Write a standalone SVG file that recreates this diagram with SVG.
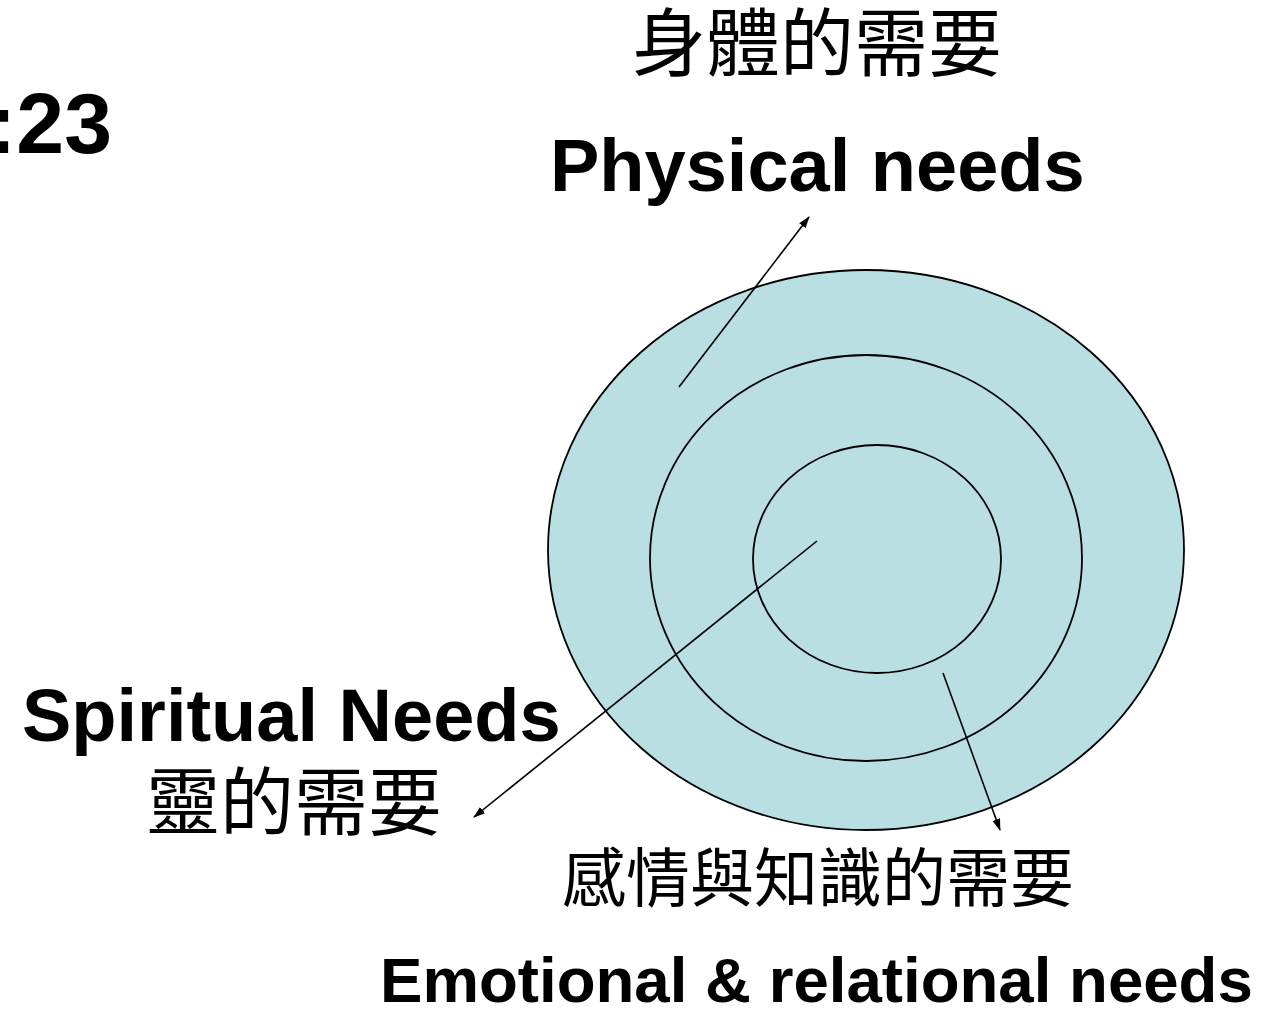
<svg xmlns="http://www.w3.org/2000/svg" width="1283" height="1010" viewBox="0 0 1283 1010">
<style>
.en{font-family:"Liberation Sans",Arial,sans-serif;font-weight:bold;fill:#000}
.zh{font-family:"Noto Sans CJK TC","Noto Sans CJK SC",sans-serif;fill:#000}
.ring{fill:#B9DFE2;stroke:#000;stroke-width:1.8}
.conn{stroke:#000;stroke-width:1.6;fill:none;marker-end:url(#ah)}
</style>
<defs>
<marker id="ah" viewBox="0 0 12 10" refX="11" refY="5" markerWidth="12" markerHeight="10" markerUnits="userSpaceOnUse" orient="auto">
<path d="M0,1 L12,5 L0,9 Z" fill="#000"/>
</marker>
</defs>
<rect width="1283" height="1010" fill="#fff"/>
<g id="title"><text class="en" x="112" y="153" font-size="86" text-anchor="end">:23</text></g>
<g id="rings">
<ellipse id="outer" class="ring" cx="866" cy="550" rx="318" ry="280"/>
<ellipse id="middle" class="ring" cx="866" cy="558" rx="216" ry="203"/>
<ellipse id="inner" class="ring" cx="877" cy="559" rx="124" ry="114"/>
</g>
<g id="physical">
<text class="zh" x="632" y="70" font-size="74">身體的需要</text>
<text class="en" x="550" y="191" font-size="74">Physical needs</text>
</g>
<g id="spiritual">
<text class="en" x="22" y="741" font-size="74">Spiritual Needs</text>
<text class="zh" x="146" y="829" font-size="74">靈的需要</text>
</g>
<g id="emotional">
<text class="zh" x="562" y="901" font-size="64">感情與知識的需要</text>
<text class="en" x="380" y="1002" font-size="63.6">Emotional &amp; relational needs</text>
</g>
<g id="connectors">
<line class="conn" x1="679" y1="387" x2="809" y2="217"/>
<line class="conn" x1="817" y1="541" x2="474" y2="817"/>
<line class="conn" x1="943" y1="673" x2="1000" y2="830"/>
</g>
</svg>
